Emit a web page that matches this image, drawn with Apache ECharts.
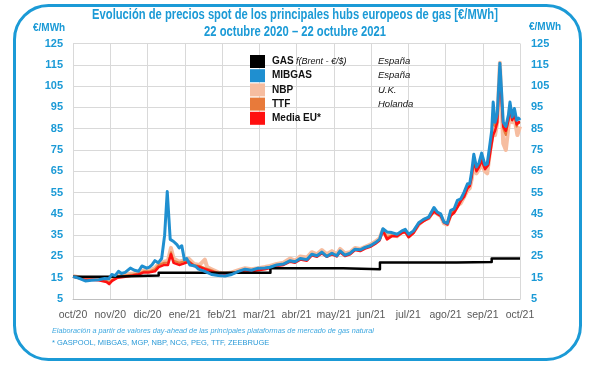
<!DOCTYPE html>
<html><head><meta charset="utf-8">
<script src="https://cdn.jsdelivr.net/npm/echarts@6/dist/echarts.min.js"></script>
<style>html,body{margin:0;padding:0;background:#fff}#c{width:590px;height:370px}</style>
</head><body><div id="c"></div>
<script>
// x positions are in months from 22 oct 2020 (0) to 22 oct 2021 (12)
const monthLabels = ['oct/20','nov/20','dic/20','ene/21','feb/21','mar/21','abr/21','may/21','jun/21','jul/21','ago/21','sep/21','oct/21'];
const seriesNames = ['GAS','MIBGAS','NBP','TTF','Media EU*'];
const seriesSub = ['f(Brent - €/$)','','','',''];
const seriesCountry = ['España','España','U.K.','Holanda',''];

const gasBrent = [[0,15.5],[1,16],[2.3,17.3],[5.3,19.5],[7.25,19],[8.24,22.1],[10.3,22.4],[11.24,24],[12,24]];

const mibgas = [[0,15.5],[0.15,14.8],[0.33,13.5],[0.5,13.8],[0.69,14],[0.85,14.6],[0.96,14.5],[1.04,16.5],[1.13,16],[1.22,18],[1.3,17],[1.4,17.5],[1.54,19.5],[1.65,18.5],[1.76,18],[1.85,20.5],[1.98,19.5],[2.05,20],[2.12,21],[2.2,23],[2.29,22],[2.38,24],[2.46,35],[2.53,55.5],[2.61,33],[2.7,32],[2.79,30.5],[2.85,29],[2.92,30],[2.99,23.5],[3.05,24],[3.14,21],[3.28,20.5],[3.37,19],[3.54,18],[3.72,16.5],[3.9,16],[4.08,15.8],[4.26,16.5],[4.44,18],[4.62,19],[4.79,18.5],[4.97,19.5],[5.15,19.6],[5.29,19.9],[5.47,21],[5.65,21.4],[5.83,23],[5.96,22.5],[6.1,24],[6.28,23.5],[6.41,26],[6.55,25.3],[6.68,27],[6.81,25],[6.95,26.5],[7.08,25.3],[7.17,27.6],[7.3,25.6],[7.44,26.5],[7.57,28.4],[7.71,28.1],[7.84,29.2],[7.98,30],[8.12,31.5],[8.23,33],[8.32,38],[8.43,36.5],[8.56,36.2],[8.7,35.4],[8.83,37],[8.92,37.7],[9.01,35.4],[9.14,37],[9.28,40.8],[9.41,42.4],[9.55,43.5],[9.69,48],[9.78,45.8],[9.87,45],[9.96,41.1],[10.05,40.6],[10.14,46.6],[10.23,47.3],[10.32,51.3],[10.41,52],[10.5,55.2],[10.59,59.1],[10.65,59.1],[10.7,64.5],[10.76,73],[10.83,67],[10.9,69],[10.97,73.5],[11.06,68],[11.12,68.5],[11.18,76],[11.24,84],[11.28,97.5],[11.33,88],[11.39,92],[11.46,115.7],[11.5,104],[11.55,88],[11.62,86],[11.69,91.5],[11.73,97.5],[11.79,90.5],[11.85,94.5],[11.91,89],[11.96,90],[12,89]];

const mediaEU = [[0,15.5],[0.33,14],[0.5,14],[0.69,13.8],[0.9,13],[0.97,12],[1.05,13.5],[1.2,15],[1.4,15.5],[1.6,16],[1.76,16.5],[1.9,17.5],[2.05,17.5],[2.2,18],[2.3,20],[2.45,21],[2.55,21],[2.63,26],[2.7,22],[2.85,21],[2.95,21.5],[3.1,22.5],[3.25,20.5],[3.4,20],[3.55,19],[3.72,18],[3.9,17],[4.08,16.5],[4.26,17],[4.44,17.5],[4.62,18.5],[4.79,18],[4.97,18.5],[5.15,19],[5.29,19.5],[5.47,20.5],[5.65,21],[5.83,22.5],[5.96,22],[6.1,23.5],[6.28,23],[6.41,25.5],[6.55,24.8],[6.68,26.5],[6.81,24.8],[6.95,26],[7.08,25],[7.17,27],[7.3,25.2],[7.44,26],[7.57,28],[7.71,27.5],[7.84,28.7],[7.98,29.5],[8.12,31],[8.23,32.5],[8.32,37],[8.43,33],[8.56,34.5],[8.7,34.5],[8.83,36],[8.92,36.5],[9.01,34],[9.14,36],[9.28,40],[9.41,41.5],[9.55,43],[9.69,46],[9.78,45],[9.87,44],[9.96,41],[10.05,40],[10.14,44],[10.23,45.5],[10.32,48],[10.41,51],[10.5,53],[10.59,57],[10.65,58],[10.7,62],[10.76,70],[10.83,65],[10.9,67],[10.97,70],[11.06,66],[11.15,68],[11.24,78],[11.28,82],[11.33,84],[11.39,88],[11.46,113],[11.5,100],[11.55,86],[11.62,84],[11.69,89],[11.73,95],[11.79,89],[11.85,92],[11.91,87],[11.96,88],[12,88]];

const nbp = [[0,15.8],[0.33,14.5],[0.5,14.5],[0.69,14.5],[0.9,14],[0.97,13.5],[1.05,14.5],[1.2,16],[1.4,16.5],[1.6,17],[1.76,17.5],[1.9,18.5],[2.05,18.5],[2.2,19.5],[2.3,21.5],[2.45,22.5],[2.55,23],[2.63,29],[2.7,24],[2.85,22.5],[2.95,23],[3.1,24],[3.25,21.5],[3.4,21],[3.54,23.5],[3.6,20],[3.72,19],[3.9,17.5],[4.08,17],[4.26,17.5],[4.44,18.5],[4.62,19.5],[4.79,19],[4.97,19.5],[5.15,20],[5.29,20.5],[5.47,21.5],[5.65,22],[5.83,24],[5.96,23],[6.1,25],[6.28,24.5],[6.41,27],[6.55,26],[6.68,28],[6.81,26],[6.95,27.5],[7.08,26],[7.17,28.5],[7.3,26.5],[7.44,27],[7.57,29],[7.71,28.5],[7.84,29.5],[7.98,30.5],[8.12,32],[8.23,33.5],[8.32,37.5],[8.43,35],[8.56,35.5],[8.7,34.5],[8.83,36.5],[8.92,37],[9.01,34.5],[9.14,36.5],[9.28,40],[9.41,42],[9.55,43],[9.69,47],[9.78,45],[9.87,44],[9.96,40.5],[10.05,40],[10.14,45],[10.23,46],[10.32,49],[10.41,50],[10.5,53],[10.59,56],[10.65,57],[10.7,61],[10.76,68],[10.83,64],[10.9,66],[10.97,68],[11.06,65],[11.12,64],[11.2,75],[11.28,84],[11.33,82],[11.39,88],[11.46,116],[11.5,98],[11.55,78],[11.62,75],[11.69,86],[11.73,95],[11.79,88],[11.85,90],[11.93,82],[12,86]];

const ttf = [[0,15.5],[0.33,14.2],[0.5,14.2],[0.69,14],[0.9,13.5],[0.97,12.8],[1.05,14],[1.2,15.5],[1.4,16],[1.6,16.5],[1.76,17],[1.9,18],[2.05,18],[2.2,19],[2.3,21],[2.45,22],[2.55,22],[2.63,27],[2.7,23],[2.85,22],[2.95,22.5],[3.1,23],[3.25,21],[3.4,20.5],[3.55,19.5],[3.72,18.5],[3.9,17.2],[4.08,16.8],[4.26,17.2],[4.44,18],[4.62,19],[4.79,18.5],[4.97,19],[5.15,19.5],[5.29,20],[5.47,21],[5.65,21.5],[5.83,23],[5.96,22.5],[6.1,24],[6.28,23.5],[6.41,26],[6.55,25.3],[6.68,27],[6.81,25.3],[6.95,26.5],[7.08,25.5],[7.17,27.5],[7.3,25.8],[7.44,26.5],[7.57,28.5],[7.71,28],[7.84,29],[7.98,30],[8.12,31.5],[8.23,33],[8.32,37.5],[8.43,34],[8.56,35],[8.7,35],[8.83,36.5],[8.92,37],[9.01,34.5],[9.14,36.5],[9.28,40.5],[9.41,42],[9.55,43.5],[9.69,47],[9.78,45.5],[9.87,44.5],[9.96,41],[10.05,40.5],[10.14,45],[10.23,46.5],[10.32,49.5],[10.41,51.5],[10.5,54],[10.59,58],[10.65,58.5],[10.7,63],[10.76,71],[10.83,66],[10.9,68],[10.97,71],[11.06,67],[11.15,69],[11.24,80],[11.28,90],[11.33,86],[11.39,90],[11.46,115],[11.5,102],[11.55,85],[11.62,82],[11.69,89],[11.73,96],[11.79,89],[11.85,92],[11.91,86],[11.96,88],[12,87.5]];

const titleLines = ['Evolución de precios spot de los principales hubs europeos de gas [€/MWh]', '22 octubre 2020 – 22 octubre 2021'];
const unitLabel = '€/MWh';
const noteLines = ['Elaboración a partir de valores day-ahead de las principales plataformas de mercado de gas natural', '* GASPOOL, MIBGAS, MGP, NBP, NCG, PEG, TTF, ZEEBRUGE'];

const BLUE = '#1b9ad6';
const FONT = '"Liberation Sans",Arial,sans-serif';

const chart = echarts.init(document.getElementById('c'), null, {renderer:'canvas'});

function legendFmt(name){
  const i = seriesNames.indexOf(name);
  const sub = seriesSub[i], ctry = seriesCountry[i];
  let s = sub ? '{n1|' + name + '}{s|' + sub + '}' : '{n|' + name + '}';
  if (ctry) s += '{c|' + ctry + '}';
  return s;
}

const lineSeries = (name, data, color, width, z) => ({
  name, type:'line', data, showSymbol:false, symbol:'none', z,
  lineStyle:{color, width, join:'round'}, itemStyle:{color}, emphasis:{disabled:true}, animation:false
});

chart.setOption({
  animation:false,
  grid:{left:73, right:70, top:43.5, bottom:71},
  legend:{
    data:seriesNames, orient:'vertical', left:245, top:50, icon:'rect', itemWidth:15, itemHeight:13, itemGap:1.2,
    formatter:legendFmt,
    textStyle:{
      fontFamily:FONT, fontSize:9.5, color:'#111',
      rich:{
        n:{fontFamily:FONT, fontWeight:'bold', fontSize:10, width:106, color:'#111', padding:[0,0,0,2]},
        n1:{fontFamily:FONT, fontWeight:'bold', fontSize:10, width:24, color:'#111', padding:[0,0,0,2]},
        s:{fontFamily:FONT, fontStyle:'italic', fontSize:9, width:82, color:'#111'},
        c:{fontFamily:FONT, fontStyle:'italic', fontSize:9.5, color:'#111'}
      }
    },
    selectedMode:false
  },
  xAxis:{
    type:'value', min:0, max:12, interval:1,
    axisLine:{show:true, lineStyle:{color:'#bfbfbf', width:1}},
    axisTick:{show:false},
    splitLine:{show:true, lineStyle:{color:'#d9d9d9', width:1}},
    axisLabel:{formatter:v => monthLabels[v], color:'#595959', fontFamily:FONT, fontSize:10.5, margin:11, showMinLabel:true, showMaxLabel:true}
  },
  yAxis:[
    {type:'value', min:5, max:125, interval:10, position:'left',
     axisLine:{show:false}, axisTick:{show:false},
     splitLine:{show:true, lineStyle:{color:'#d9d9d9', width:1}},
     axisLabel:{color:BLUE, fontFamily:FONT, fontWeight:'bold', fontSize:11, margin:10}},
    {type:'value', min:5, max:125, interval:10, position:'right',
     axisLine:{show:false}, axisTick:{show:false}, splitLine:{show:false},
     axisLabel:{color:BLUE, fontFamily:FONT, fontWeight:'bold', fontSize:11, margin:11, align:'left'}}
  ],
  series:[
    lineSeries('NBP', nbp, '#f6bda0', 4, 1),
    lineSeries('TTF', ttf, '#e87a3a', 2, 2),
    lineSeries('Media EU*', mediaEU, '#ff1010', 2.5, 3),
    Object.assign(lineSeries('GAS', gasBrent, '#000000', 2.5, 4), {step:'end'}),
    lineSeries('MIBGAS', mibgas, '#1f8fd0', 3, 5)
  ],
  graphic:[
    {type:'rect', left:12, top:3, shape:{width:566, height:354, r:34}, style:{fill:'none', stroke:BLUE, lineWidth:3}, silent:true, z:-1},
    {type:'text', x:295, y:8, scaleX:0.8, style:{text:titleLines[0], fill:BLUE, font:'bold 14px ' + FONT, textAlign:'center', textVerticalAlign:'top'}},
    {type:'text', x:295, y:25, scaleX:0.8, style:{text:titleLines[1], fill:BLUE, font:'bold 14px ' + FONT, textAlign:'center', textVerticalAlign:'top'}},
    {type:'text', x:33, y:23, style:{text:unitLabel, fill:BLUE, font:'bold 10px ' + FONT}},
    {type:'text', x:529, y:22, style:{text:unitLabel, fill:BLUE, font:'bold 10px ' + FONT}},
    {type:'text', x:52, y:327, scaleX:0.97, style:{text:noteLines[0], fill:'#3ea8e0', font:'italic 7.5px ' + FONT}},
    {type:'text', x:52, y:339, style:{text:noteLines[1], fill:'#2a9ad8', font:'7.5px ' + FONT}}
  ]
});
</script>
</body></html>
